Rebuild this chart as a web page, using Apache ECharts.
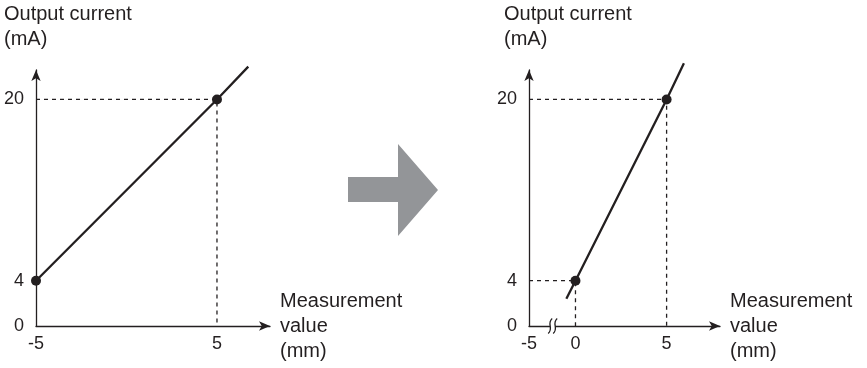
<!DOCTYPE html>
<html>
<head>
<meta charset="utf-8">
<script src="https://cdn.jsdelivr.net/npm/echarts@6/dist/echarts.min.js"></script>
<style>
  html, body { margin: 0; padding: 0; background: #fff; }
  #chart { width: 867px; height: 368px; }
</style>
</head>
<body>
<div id="chart"></div>
<script>
// 2 つの出力特性（-5〜5 mm → 4〜20 mA、0〜5 mm → 4〜20 mA）を並べた図

const yTicks = [0, 4, 20]
const leftXTicks = [-5, 5]
const rightXTicks = [0, 5]

// 右図の横軸は途中省略：原点の目盛は -5 だが描画上は -2.55 の位置
const rightOriginLabel = -5
const rightOrigin = -2.55
const rightBreakAt = -1.25

// 左図
const leftLine = [[-5, 4], [5, 20], [6.73, 22.9]]
const leftPoints = [[-5, 4], [5, 20]]
const leftGuide = [[-5, 20], [5, 20], [5, 0]]

// 右図
const rightLine = [[-0.5, 2.4], [0, 4], [5, 20], [5.95, 23.2]]
const rightPoints = [[0, 4], [5, 20]]
const rightGuide20 = [[rightOrigin, 20], [5, 20], [5, 0]]
const rightGuide4 = [[rightOrigin, 4], [0, 4], [0, 0]]

const ink = '#231f20'
const font = 'Liberation Sans, Arial, sans-serif'

const chart = echarts.init(document.getElementById('chart'), null, { renderer: 'canvas' })

function xAxis(gridIndex, min, max, ticks, formatter) {
  return {
    type: 'value',
    gridIndex,
    min,
    max,
    name: 'Measurement\nvalue\n(mm)',
    nameLocation: 'end',
    nameGap: 10,
    nameTextStyle: { color: ink, fontSize: 20, fontFamily: font, lineHeight: 25, align: 'left', verticalAlign: 'middle' },
    axisLine: { show: true, onZero: false, lineStyle: { color: ink, width: 1.3 }, symbol: ['none', 'arrow'], symbolSize: [7, 11] },
    axisTick: { show: false },
    splitLine: { show: false },
    axisLabel: { customValues: ticks, color: ink, fontSize: 18, fontFamily: font, margin: 9, formatter },
  }
}

function yAxis(gridIndex) {
  return {
    type: 'value',
    gridIndex,
    min: 0,
    max: 22.6,
    axisLine: { show: true, onZero: false, lineStyle: { color: ink, width: 1.3 }, symbol: ['none', 'arrow'], symbolSize: [7, 11] },
    axisTick: { show: false },
    splitLine: { show: false },
    axisLabel: { customValues: yTicks, color: ink, fontSize: 18, fontFamily: font, margin: 12 },
  }
}

const dashed = { color: ink, width: 1.3, type: [4, 4] }

function guide(data, xi) {
  return { type: 'line', xAxisIndex: xi, yAxisIndex: xi, data, symbol: 'none', lineStyle: dashed, silent: true, z: 1 }
}

function mainLine(data, xi) {
  return { type: 'line', xAxisIndex: xi, yAxisIndex: xi, data, symbol: 'none', clip: false, lineStyle: { color: ink, width: 2.3 }, z: 3 }
}

function dots(data, xi) {
  return { type: 'scatter', xAxisIndex: xi, yAxisIndex: xi, data, symbolSize: 10, itemStyle: { color: ink, opacity: 1 }, z: 4 }
}

chart.setOption({
  animation: false,
  backgroundColor: '#fff',
  title: [
    { text: 'Output current\n(mA)', left: 4, top: 2, padding: 0, textStyle: { color: ink, fontSize: 20, fontWeight: 'normal', fontFamily: font, lineHeight: 25 } },
    { text: 'Output current\n(mA)', left: 504, top: 2, padding: 0, textStyle: { color: ink, fontSize: 20, fontWeight: 'normal', fontFamily: font, lineHeight: 25 } },
  ],
  grid: [
    { left: 36, top: 70, width: 234, height: 256, outerBoundsMode: 'none' },
    { left: 529, top: 70, width: 191, height: 256, outerBoundsMode: 'none' },
  ],
  xAxis: [
    xAxis(0, -5, 7.93, leftXTicks),
    xAxis(1, rightOrigin, 7.93, [rightOrigin, ...rightXTicks], (v) => (v === rightOrigin ? String(rightOriginLabel) : String(v))),
  ],
  yAxis: [yAxis(0), yAxis(1)],
  graphic: [
    {
      type: 'polygon',
      shape: { points: [[348, 177], [398, 177], [398, 144], [438, 190], [398, 236], [398, 202], [348, 202]] },
      style: { fill: '#939598' },
    },
  ],
  series: [
    guide(leftGuide, 0),
    mainLine(leftLine, 0),
    dots(leftPoints, 0),
    guide(rightGuide20, 1),
    guide(rightGuide4, 1),
    mainLine(rightLine, 1),
    dots(rightPoints, 1),
    {
      // 横軸の省略記号
      type: 'custom',
      xAxisIndex: 1,
      yAxisIndex: 1,
      data: [[rightBreakAt, 0]],
      z: 5,
      renderItem: (params, api) => {
        const [cx, cy] = api.coord([api.value(0), api.value(1)])
        const wave = (x) => ({
          type: 'bezierCurve',
          shape: { x1: x + 2, y1: cy - 7.5, cpx1: x - 4, cpy1: cy - 2, cpx2: x + 4, cpy2: cy + 2, x2: x - 2, y2: cy + 7.5 },
          style: { stroke: ink, lineWidth: 1.3, fill: null },
        })
        return {
          type: 'group',
          children: [
            { type: 'rect', shape: { x: cx - 2.5, y: cy - 2, width: 5, height: 4 }, style: { fill: '#fff' } },
            wave(cx - 2.5),
            wave(cx + 2.5),
          ],
        }
      },
    },
  ],
})
</script>
</body>
</html>
